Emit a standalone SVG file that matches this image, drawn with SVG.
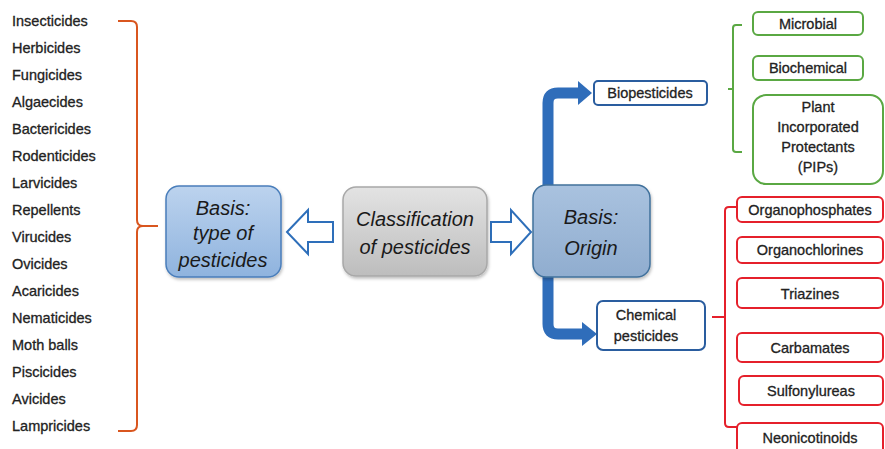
<svg xmlns="http://www.w3.org/2000/svg" width="885" height="449" viewBox="0 0 885 449">
<style>
.lst{font-family:"Liberation Sans",Arial,sans-serif;font-size:14.5px;fill:#222;stroke:#222;stroke-width:0.3}
.bx{font-family:"Liberation Sans",Arial,sans-serif;font-size:14.5px;fill:#222;stroke:#222;stroke-width:0.3;text-anchor:middle}
.big{font-family:"Liberation Sans",Arial,sans-serif;font-size:20px;font-style:italic;fill:#1a1a1a;text-anchor:middle}
.g{fill:#fff;stroke:#5aa843;stroke-width:2}
.r{fill:#fff;stroke:#e5202b;stroke-width:2}
.b{fill:#fff;stroke:#2a5d9f;stroke-width:2}
</style>
<defs>
<linearGradient id="gb" x1="0" y1="0" x2="0" y2="1"><stop offset="0" stop-color="#bcd3ee"/><stop offset="1" stop-color="#8fb3de"/></linearGradient>
<linearGradient id="go" x1="0" y1="0" x2="0" y2="1"><stop offset="0" stop-color="#a9c2df"/><stop offset="1" stop-color="#90adcf"/></linearGradient>
<linearGradient id="gg" x1="0" y1="0" x2="0" y2="1"><stop offset="0" stop-color="#e3e3e3"/><stop offset="1" stop-color="#bdbdbd"/></linearGradient>
<filter id="sh" x="-10%" y="-10%" width="130%" height="130%"><feDropShadow dx="1" dy="2" stdDeviation="1.5" flood-color="#000" flood-opacity="0.25"/></filter>
</defs>
<rect width="885" height="449" fill="#fff"/>
<g id="list">
<text class="lst" x="12" y="26">Insecticides</text>
<text class="lst" x="12" y="53">Herbicides</text>
<text class="lst" x="12" y="80">Fungicides</text>
<text class="lst" x="12" y="107">Algaecides</text>
<text class="lst" x="12" y="134">Bactericides</text>
<text class="lst" x="12" y="161">Rodenticides</text>
<text class="lst" x="12" y="188">Larvicides</text>
<text class="lst" x="12" y="215">Repellents</text>
<text class="lst" x="12" y="242">Virucides</text>
<text class="lst" x="12" y="269">Ovicides</text>
<text class="lst" x="12" y="296">Acaricides</text>
<text class="lst" x="12" y="323">Nematicides</text>
<text class="lst" x="12" y="350">Moth balls</text>
<text class="lst" x="12" y="377">Piscicides</text>
<text class="lst" x="12" y="404">Avicides</text>
<text class="lst" x="12" y="431">Lampricides</text>
</g>
<g id="connectors">
<path d="M118,21 H131 Q137,21 137,27 V220 Q137,226 143,226 H158 M143,226 Q137,226 137,232 V425 Q137,431 131,431 H118" fill="none" stroke="#d9561f" stroke-width="2"/>
<polygon points="287,232 308,210 308,222 333,222 333,242 308,242 308,254" fill="#fff" stroke="#2e6fba" stroke-width="2"/>
<polygon points="491,222 511,222 511,210 531,232 511,254 511,242 491,242" fill="#fff" stroke="#2e6fba" stroke-width="2"/>
<path d="M548,186 V103 Q548,93 558,93 H580" fill="none" stroke="#2f6dba" stroke-width="11"/>
<polygon points="578,81 592,93 578,105" fill="#2f6dba"/>
<path d="M548,276 V324 Q548,334 558,334 H584" fill="none" stroke="#2f6dba" stroke-width="11"/>
<polygon points="582,322 597,334 582,346" fill="#2f6dba"/>
<path d="M742,25 H736 Q733,25 733,28 V149 Q733,152 736,152 H742 M733,89 H728" fill="none" stroke="#5aa843" stroke-width="2"/>
<path d="M737,207 H729 Q725,207 725,211 V423 Q725,427 729,427 H737 M725,317 H712" fill="none" stroke="#e5202b" stroke-width="2"/>
</g>
<g id="node-type">
<rect x="166" y="186" width="115" height="91" rx="13" fill="url(#gb)" stroke="#4a7ebb" stroke-width="1.5" filter="url(#sh)"/>
<text class="big" x="223" y="215">Basis:</text>
<text class="big" x="223" y="240">type of</text>
<text class="big" x="223" y="267">pesticides</text>
</g>
<g id="node-class">
<rect x="343" y="187" width="144" height="89" rx="13" fill="url(#gg)" stroke="#a8a8a8" stroke-width="1.5" filter="url(#sh)"/>
<text class="big" x="415" y="226">Classification</text>
<text class="big" x="415" y="254">of pesticides</text>
</g>
<g id="node-origin">
<rect x="533" y="185" width="117" height="92" rx="13" fill="url(#go)" stroke="#41719c" stroke-width="1.5" filter="url(#sh)"/>
<text class="big" x="591" y="224">Basis:</text>
<text class="big" x="591" y="255">Origin</text>
</g>
<g id="node-bio">
<rect class="b" x="594" y="81" width="113" height="24" rx="4"/>
<text class="bx" x="650" y="98">Biopesticides</text>
</g>
<g id="node-chem">
<rect class="b" x="597" y="301" width="108" height="49" rx="6"/>
<text class="bx" x="646" y="320">Chemical</text>
<text class="bx" x="646" y="341">pesticides</text>
</g>
<g id="node-microbial">
<rect class="g" x="753" y="12" width="110" height="23" rx="5"/>
<text class="bx" x="808" y="29">Microbial</text>
</g>
<g id="node-biochemical">
<rect class="g" x="753" y="56" width="110" height="24" rx="5"/>
<text class="bx" x="808" y="73">Biochemical</text>
</g>
<g id="node-pips">
<rect class="g" x="753" y="95" width="130" height="89" rx="13"/>
<text class="bx" x="818" y="112">Plant</text>
<text class="bx" x="818" y="132">Incorporated</text>
<text class="bx" x="818" y="152">Protectants</text>
<text class="bx" x="818" y="172">(PIPs)</text>
</g>
<g id="node-op">
<rect class="r" x="737" y="197" width="146" height="25" rx="5"/>
<text class="bx" x="810" y="215">Organophosphates</text>
</g>
<g id="node-oc">
<rect class="r" x="737" y="237" width="146" height="26" rx="5"/>
<text class="bx" x="810" y="255">Organochlorines</text>
</g>
<g id="node-tri">
<rect class="r" x="737" y="278" width="146" height="30" rx="5"/>
<text class="bx" x="810" y="299">Triazines</text>
</g>
<g id="node-carb">
<rect class="r" x="737" y="333" width="146" height="29" rx="5"/>
<text class="bx" x="810" y="353">Carbamates</text>
</g>
<g id="node-sulf">
<rect class="r" x="739" y="376" width="144" height="29" rx="5"/>
<text class="bx" x="811" y="396">Sulfonylureas</text>
</g>
<g id="node-neo">
<rect class="r" x="737" y="423" width="146" height="40" rx="5"/>
<text class="bx" x="810" y="443">Neonicotinoids</text>
</g>
</svg>
